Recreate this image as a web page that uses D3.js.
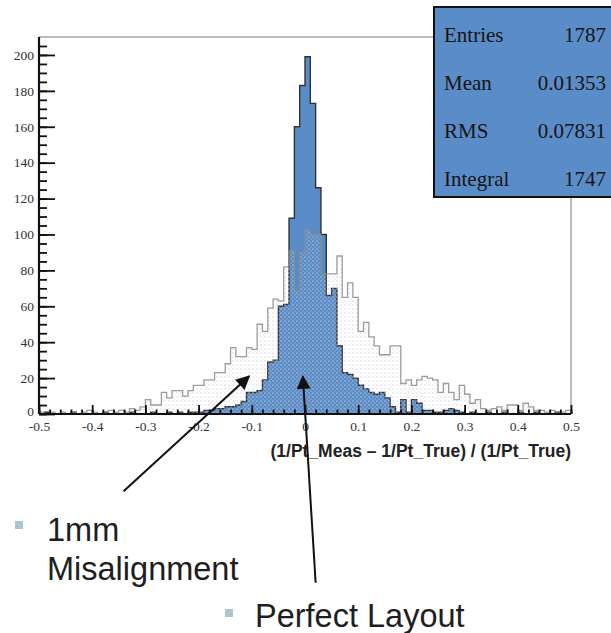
<!DOCTYPE html>
<html>
<head>
<meta charset="utf-8">
<script src="https://cdn.jsdelivr.net/npm/d3@7"></script>
<style>
  body { margin: 0; background: #fff; }
  svg { display: block; }
</style>
</head>
<body>
<svg id="vis"></svg>
<script>
const WIDTH = 611;
const HEIGHT = 633;

// histogram binning: 100 bins of 0.01 from -0.5 to 0.5
const BIN_LO = -0.5;
const BIN_W = 0.01;

// perfect layout (blue filled histogram), counts per bin
const perfect = [
  0,1,0,0,0,0,1,0,0,0, 0,0,1,0,0,0,0,1,0,0,
  0,1,0,0,1,0,1,0,1,1, 1,2,2,3,3,4,4,5,7,12,
  12,13,19,29,30,60,61,109,160,183, 199,173,126,100,66,70,38,23,22,20,
  16,14,12,11,12,9,4,1,8,1, 8,6,2,2,1,1,2,3,2,1,
  0,1,0,0,1,0,0,1,0,0, 1,0,0,1,0,0,0,1,0,0
];

// 1mm misalignment (outlined, dotted histogram)
const misaligned = [
  1,0,1,0,1,0,1,0,1,2, 1,0,1,2,1,2,1,3,2,4,
  8,5,5,12,9,13,13,10,13,16, 16,19,19,23,23,28,37,32,32,37,
  36,50,46,59,64,63,82,91,69,90, 103,100,100,78,78,78,88,65,73,65,
  46,51,43,38,33,33,38,38,17,19, 16,19,21,20,19,12,17,12,8,16,
  11,6,8,3,2,3,4,2,5,5, 2,6,4,2,2,1,2,1,1,2
];

const xTicks = [-0.5, -0.4, -0.3, -0.2, -0.1, 0, 0.1, 0.2, 0.3, 0.4, 0.5];
const yTicks = [0, 20, 40, 60, 80, 100, 120, 140, 160, 180, 200];

const statLabels = ["Entries", "Mean", "RMS", "Integral"];
const statValues = ["1787", "0.01353", "0.07831", "1747"];

const xTitle = "(1/Pt_Meas \u2013 1/Pt_True) / (1/Pt_True)";

// arrows in data coordinates (tail -> tip)
const arrows = [
  { from: [-0.341, -43], to: [-0.105, 21] },
  { from: [0.02, -94], to: [-0.004, 21] }
];

const margin = { top: 37, right: 38, left: 39, bottom: 219 };

const SVG = d3.select('#vis')
  .attr("width", WIDTH)
  .attr("height", HEIGHT)
  .style("font-family", "'Liberation Serif', serif");

const x = d3.scaleLinear()
  .domain([-0.5, 0.5])
  .range([margin.left, WIDTH - margin.right - 2]);

const y = d3.scaleLinear()
  .domain([0, 210])
  .range([HEIGHT - margin.bottom, margin.top]);  // 0 -> 414

const BLUE = "#5a8cc7";

// pattern for the misaligned histogram
const defs = SVG.append("defs");
const pat = defs.append("pattern")
  .attr("id", "dots")
  .attr("width", 4).attr("height", 4)
  .attr("patternUnits", "userSpaceOnUse");
pat.append("circle").attr("cx", 1).attr("cy", 1).attr("r", 0.7).attr("fill", "#cfcfd6");
pat.append("circle").attr("cx", 3).attr("cy", 3).attr("r", 0.5).attr("fill", "#e0e0e6");

defs.append("marker")
  .attr("id", "head")
  .attr("viewBox", "0 0 10 10")
  .attr("refX", 9).attr("refY", 5)
  .attr("markerWidth", 7.5).attr("markerHeight", 7)
  .attr("markerUnits", "strokeWidth")
  .attr("orient", "auto")
  .append("path")
  .attr("d", "M0,0 L10,5 L0,10 Z")
  .attr("fill", "#111");

// step data: add closing point
function steps(counts) {
  const pts = counts.map((c, i) => ({ x: BIN_LO + i * BIN_W, c: c }));
  pts.push({ x: BIN_LO + counts.length * BIN_W, c: counts[counts.length - 1] });
  return pts;
}

const area = d3.area()
  .curve(d3.curveStepAfter)
  .x(d => x(d.x))
  .y0(y(0))
  .y1(d => y(d.c));

const line = d3.line()
  .curve(d3.curveStepAfter)
  .x(d => x(d.x))
  .y(d => y(d.c));

const hist = SVG.append("g").attr("id", "hist");

hist.append("path")
  .datum(steps(perfect))
  .attr("d", area)
  .attr("fill", BLUE);

hist.append("path")
  .datum(steps(perfect))
  .attr("d", line)
  .attr("fill", "none")
  .attr("stroke", "#2f3238")
  .attr("stroke-width", 1.4);

hist.append("path")
  .datum(steps(misaligned))
  .attr("d", area)
  .attr("fill", "url(#dots)");

hist.append("path")
  .datum(steps(misaligned))
  .attr("d", line)
  .attr("fill", "none")
  .attr("stroke", "#8c8c8c")
  .attr("stroke-opacity", 0.85)
  .attr("stroke-width", 1.3);

// frame (top + right)
SVG.append("line")
  .attr("x1", x(-0.5)).attr("x2", 434)
  .attr("y1", y(210)).attr("y2", y(210))
  .attr("stroke", "#777").attr("stroke-width", 1);
SVG.append("line")
  .attr("x1", x(0.5)).attr("x2", x(0.5))
  .attr("y1", 197).attr("y2", y(0))
  .attr("stroke", "#777").attr("stroke-width", 1);

// y axis: major + minor ticks inside
const yMinor = SVG.append("g")
  .attr("transform", `translate(${x(-0.5)},0)`)
  .call(d3.axisLeft(y).tickValues(d3.range(0, 210, 5)).tickSize(-8).tickFormat(""));
const yAxis = SVG.append("g")
  .attr("transform", `translate(${x(-0.5)},0)`)
  .call(d3.axisLeft(y).tickValues(yTicks).tickSize(-16).tickPadding(5));

// x axis: major + minor ticks inside
const xMinor = SVG.append("g")
  .attr("transform", `translate(0,${y(0)})`)
  .call(d3.axisBottom(x).tickValues(d3.range(-25, 26).map(i => i * 0.02)).tickSize(-4.5).tickFormat(""));
const xAxis = SVG.append("g")
  .attr("transform", `translate(0,${y(0)})`)
  .call(d3.axisBottom(x).tickValues(xTicks).tickSize(-9).tickPadding(7)
    .tickFormat(d => Math.abs(d) < 1e-9 ? "0" : String(+d.toFixed(1))));

[yMinor, yAxis, xMinor, xAxis].forEach(g => {
  g.select(".domain").attr("stroke", "#111").attr("stroke-width", 2.2);
  g.selectAll(".tick line").attr("stroke", "#111").attr("stroke-width", 1.8);
  g.selectAll("text")
    .style("font-family", "'Liberation Serif', serif")
    .style("font-size", "13.5px")
    .attr("fill", "#333");
});
yMinor.select(".domain").remove();
xMinor.select(".domain").remove();
yAxis.select(".domain").attr("d", `M0,${y(0)}V${y(210)}`);
xAxis.select(".domain").attr("d", `M${x(-0.5)},0H${x(0.5)}`);
// keep the "0" of the y axis just above the x labels
yAxis.selectAll(".tick text").filter(d => d === 0).attr("dy", "0.1em");

// axis title
SVG.append("text")
  .attr("x", x(0.5))
  .attr("y", 457)
  .attr("text-anchor", "end")
  .style("font-family", "'Liberation Sans', Arial, sans-serif")
  .style("font-weight", "bold")
  .style("font-size", "17.5px")
  .attr("fill", "#222")
  .text(xTitle);

// stats box
const stats = SVG.append("g").attr("id", "stats");
stats.append("rect")
  .attr("x", 434).attr("y", 7)
  .attr("width", 190).attr("height", 190)
  .attr("fill", BLUE)
  .attr("stroke", "#111").attr("stroke-width", 2);

stats.selectAll(".lbl")
  .data(statLabels)
  .enter()
  .append("text")
  .attr("class", "lbl")
  .attr("x", 444)
  .attr("y", (d, i) => 42 + i * 48)
  .style("font-size", "21px")
  .attr("fill", "#151515")
  .text(d => d);

stats.selectAll(".val")
  .data(statValues)
  .enter()
  .append("text")
  .attr("class", "val")
  .attr("x", 606)
  .attr("y", (d, i) => 42 + i * 48)
  .attr("text-anchor", "end")
  .style("font-size", "21px")
  .attr("fill", "#151515")
  .text(d => d);

// arrows
SVG.selectAll(".arrow")
  .data(arrows)
  .enter()
  .append("line")
  .attr("class", "arrow")
  .attr("x1", d => x(d.from[0])).attr("y1", d => y(d.from[1]))
  .attr("x2", d => x(d.to[0])).attr("y2", d => y(d.to[1]))
  .attr("stroke", "#111")
  .attr("stroke-width", 2)
  .attr("marker-end", "url(#head)");

// bullet labels
const notes = SVG.append("g")
  .style("font-family", "'Liberation Sans', Arial, sans-serif")
  .style("font-size", "32.5px")
  .attr("fill", "#1e1e1e");

notes.append("rect").attr("x", 15).attr("y", 521).attr("width", 8).attr("height", 8).attr("fill", "#a9c6cf");
notes.append("text").attr("x", 47).attr("y", 541).text("1mm");
notes.append("text").attr("x", 47).attr("y", 580).text("Misalignment");

notes.append("rect").attr("x", 225).attr("y", 609).attr("width", 8).attr("height", 8).attr("fill", "#a9c6cf");
notes.append("text").attr("x", 255).attr("y", 627).text("Perfect Layout");
</script>
</body>
</html>
